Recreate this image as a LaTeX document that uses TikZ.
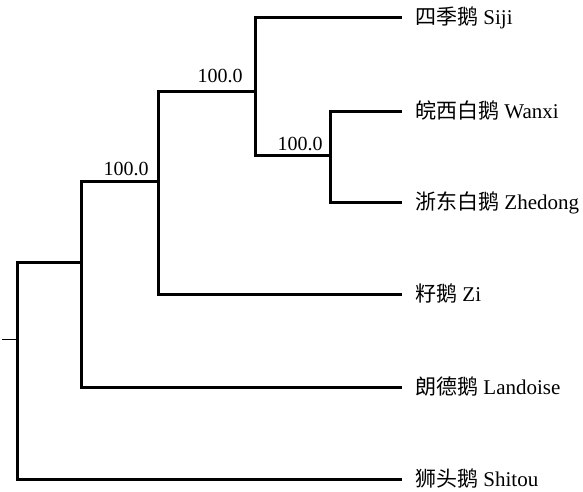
\documentclass[tikz,border=0pt]{standalone}
\usepackage{fontspec}
\setmainfont{Liberation Serif}
\newfontfamily\cjk{Noto Sans CJK SC}
\begin{document}
\begin{tikzpicture}[x=1pt,y=-1pt,
  branch/.style={line width=3pt,line cap=rect,line join=miter},
  stub/.style={line width=1pt},
  leaf/.style={anchor=base west,inner sep=0pt,font=\fontsize{21}{24}\selectfont},
  boot/.style={anchor=base,inner sep=0pt,font=\fontsize{20}{24}\selectfont}]
\useasboundingbox (0,0) rectangle (583,491);
% internal points
\coordinate (stubend) at (2,339);
\coordinate (root) at (17,339);
\coordinate (n1) at (81,262);
\coordinate (n2) at (158,181);
\coordinate (n3) at (255,91);
\coordinate (n4) at (330,155);
% leaf ends
\coordinate (siji) at (400,17);
\coordinate (wanxi) at (400,111);
\coordinate (zhedong) at (400,202);
\coordinate (zi) at (400,294);
\coordinate (landoise) at (400,387);
\coordinate (shitou) at (400,479);
% branches
\draw[stub] (stubend) -- (root);
\draw[branch] (root) |- (n1);
\draw[branch] (root) |- (shitou);
\draw[branch] (n1) |- (n2);
\draw[branch] (n1) |- (landoise);
\draw[branch] (n2) |- (n3);
\draw[branch] (n2) |- (zi);
\draw[branch] (n3) |- (siji);
\draw[branch] (n3) |- (n4);
\draw[branch] (n4) |- (wanxi);
\draw[branch] (n4) |- (zhedong);
% leaf labels
\node[leaf] (lsiji) at ([xshift=15pt,yshift=-7pt]siji) {{\cjk 四季鹅} Siji};
\node[leaf] (lwanxi) at ([xshift=15pt,yshift=-7pt]wanxi) {{\cjk 皖西白鹅} Wanxi};
\node[leaf] (lzhedong) at ([xshift=15pt,yshift=-7pt]zhedong) {{\cjk 浙东白鹅} Zhedong};
\node[leaf] (lzi) at ([xshift=15pt,yshift=-7pt]zi) {{\cjk 籽鹅} Zi};
\node[leaf] (llandoise) at ([xshift=15pt,yshift=-7pt]landoise) {{\cjk 朗德鹅} Landoise};
\node[leaf] (lshitou) at ([xshift=15pt,yshift=-7pt]shitou) {{\cjk 狮头鹅} Shitou};
% bootstrap values
\node[boot] (b3) at (220,82) {100.0};
\node[boot] (b2) at (126,175) {100.0};
\node[boot] (b4) at (300,150) {100.0};
\end{tikzpicture}
\end{document}
